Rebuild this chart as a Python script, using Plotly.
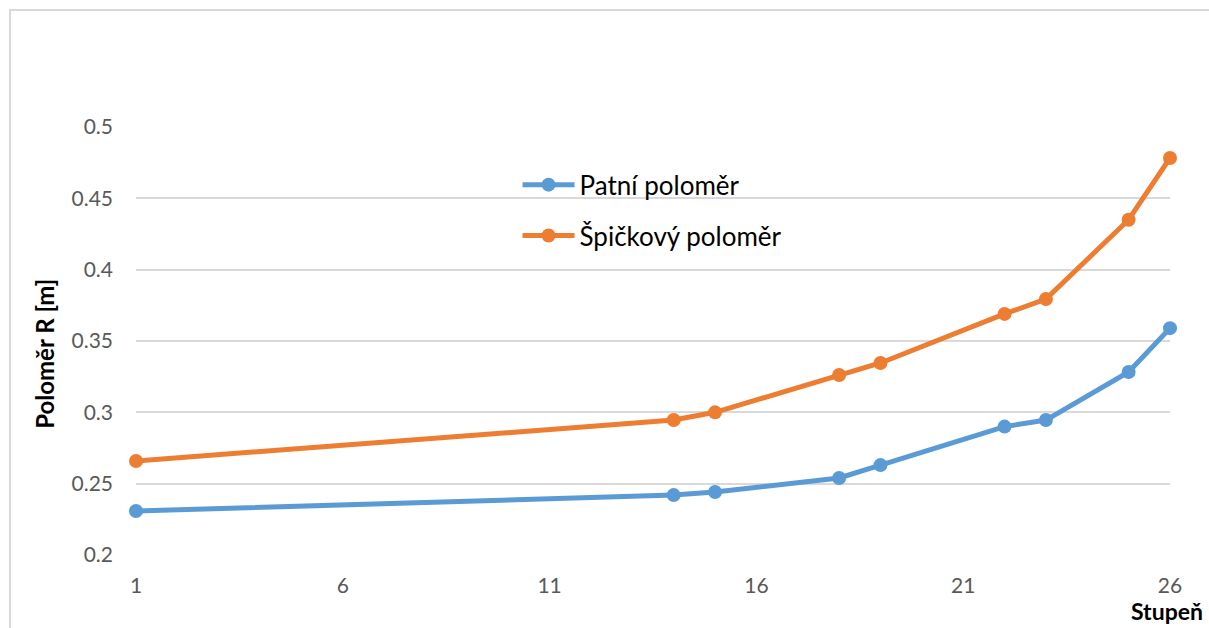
import plotly.graph_objects as go

# Stage numbers and radii [m]
stages = [1, 14, 15, 18, 19, 22, 23, 25, 26]
patni = [0.2308, 0.2420, 0.2442, 0.2540, 0.2630, 0.2900, 0.2946, 0.3283, 0.3590]
spickovy = [0.2659, 0.2946, 0.3000, 0.3262, 0.3346, 0.3690, 0.3794, 0.4350, 0.4783]

x_ticks = [1, 6, 11, 16, 21, 26]
y_ticks = [0.2, 0.25, 0.3, 0.35, 0.4, 0.45, 0.5]
y_tick_text = ["0.2", "0.25", "0.3", "0.35", "0.4", "0.45", "0.5"]

BLUE = "#5B9BD5"
ORANGE = "#ED7D31"
FONT = "Lato, Open Sans, sans-serif"

fig = go.Figure()
fig.add_trace(go.Scatter(
    x=stages, y=patni, name="Patní poloměr", mode="lines+markers",
    line=dict(color=BLUE, width=5), marker=dict(color=BLUE, size=14),
    legendgroup="a", cliponaxis=False,
))
fig.add_trace(go.Scatter(
    x=stages, y=spickovy, name="Špičkový poloměr", mode="lines+markers",
    line=dict(color=ORANGE, width=5), marker=dict(color=ORANGE, size=14),
    legendgroup="b", cliponaxis=False,
))

fig.update_layout(
    width=1209, height=628,
    margin=dict(l=136, r=39, t=127, b=73),
    paper_bgcolor="white", plot_bgcolor="white",
    font=dict(family=FONT, size=21, color="#595959"),
    legend=dict(
        x=0.369, y=0.92, xanchor="left", yanchor="top",
        bgcolor="rgba(0,0,0,0)", font=dict(size=26, color="#000000"),
        itemwidth=52, traceorder="grouped", tracegroupgap=14,
    ),
    xaxis=dict(
        range=[1, 26], tickvals=x_ticks, ticktext=[str(v) for v in x_ticks],
        showgrid=False, zeroline=False, showline=False,
        ticks="", ticklabelstandoff=16,
    ),
    yaxis=dict(
        range=[0.2, 0.5], tickvals=y_ticks, ticktext=y_tick_text,
        showgrid=True, gridcolor="#d9d9d9", gridwidth=1.5, zeroline=False,
        showline=False, ticks="", ticklabelstandoff=22,
    ),
    annotations=[
        dict(text="<b>Poloměr R [m]</b>", xref="paper", yref="paper",
             x=-0.088, y=0.47, xanchor="center", yanchor="middle",
             textangle=-90, showarrow=False,
             font=dict(family=FONT, size=24, color="#000000")),
        dict(text="<b>Stupeň</b>", xref="paper", yref="paper",
             x=1.0338, y=-0.131, xanchor="right", yanchor="middle",
             showarrow=False,
             font=dict(family=FONT, size=23, color="#000000")),
    ],
    shapes=[
        dict(type="rect", xref="paper", yref="paper",
             x0=-0.1219, y0=-0.4, x1=1.2, y1=1.2734,
             line=dict(color="#d9d9d9", width=2), fillcolor="rgba(0,0,0,0)",
             layer="below"),
    ],
    showlegend=True,
)

fig.write_html("out.html")
